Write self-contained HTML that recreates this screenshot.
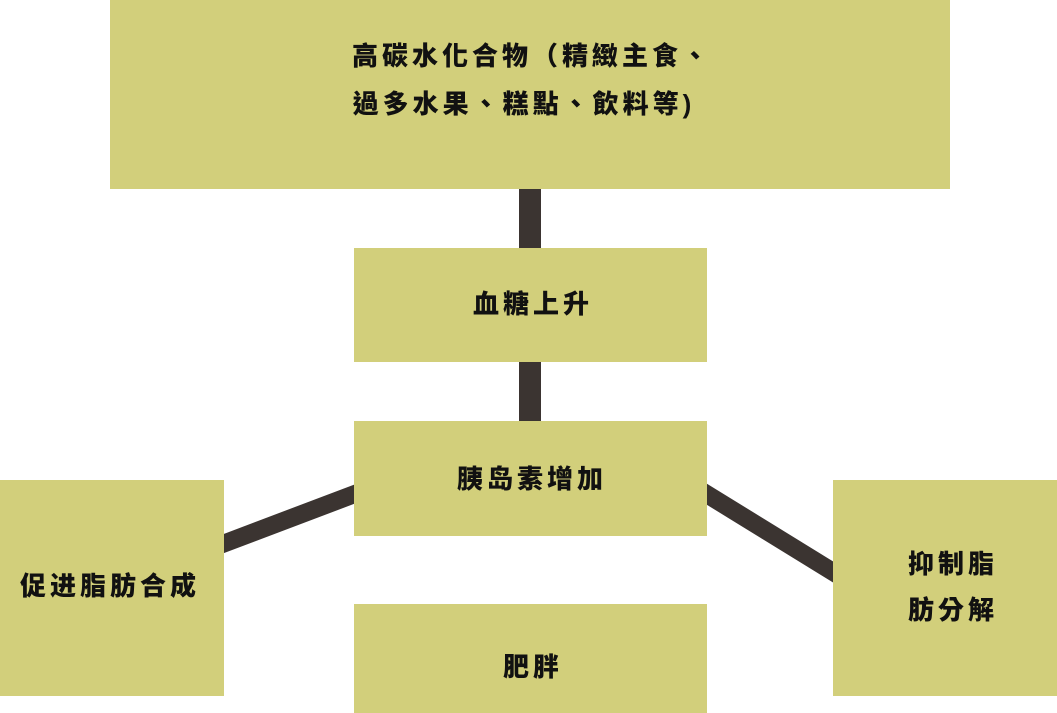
<!DOCTYPE html>
<html><head><meta charset="utf-8"><style>
html,body{margin:0;padding:0;background:#fff;}
svg{display:block}
text{font-family:"Liberation Sans","Noto Sans CJK TC",sans-serif;font-weight:900;fill:#111;font-size:26px;letter-spacing:4px;}
</style></head><body>
<svg width="1057" height="713" viewBox="0 0 1057 713">
<g stroke="#3b3431" stroke-width="22">
<line x1="530" y1="185" x2="530" y2="252"/>
<line x1="530" y1="358" x2="530" y2="425"/>
</g>
<g stroke="#3b3431" stroke-width="18">
<line x1="360" y1="492" x2="220" y2="545"/>
<line x1="700" y1="490" x2="838" y2="575"/>
</g>
<g fill="#d2cf7b">
<rect x="110" y="0" width="840" height="189"/>
<rect x="354" y="248" width="353" height="114"/>
<rect x="354" y="421" width="353" height="115"/>
<rect x="0" y="480" width="224" height="216"/>
<rect x="833" y="480" width="224" height="216"/>
<rect x="354" y="604" width="353" height="109"/>
</g>
<text x="532" y="65" text-anchor="middle">高碳水化合物（精緻主食、</text>
<text x="524" y="113" text-anchor="middle">過多水果、糕點、飲料等)</text>
<text x="533" y="313" text-anchor="middle">血糖上升</text>
<text x="532" y="488" text-anchor="middle">胰岛素增加</text>
<text x="110" y="595" text-anchor="middle">促进脂肪合成</text>
<text x="953" y="573" text-anchor="middle">抑制脂</text>
<text x="953" y="619" text-anchor="middle">肪分解</text>
<text x="533" y="676" text-anchor="middle">肥胖</text>
</svg>
</body></html>
